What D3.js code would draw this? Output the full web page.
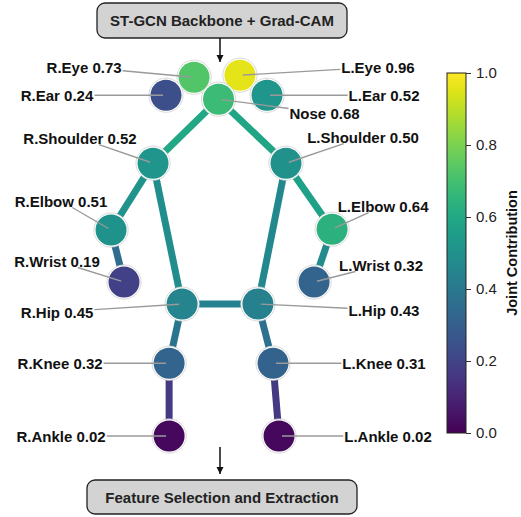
<!DOCTYPE html>
<html>
<head>
<meta charset="utf-8">
<script src="https://cdn.jsdelivr.net/npm/d3@7"></script>
<style>
  body { margin: 0; background: #fff; }
  svg { display: block; font-family: "Liberation Sans", Arial, sans-serif; }
</style>
</head>
<body>
<svg width="521" height="517"></svg>
<script>
// joints (COCO style), Grad-CAM contribution and pose keypoints (normalised)
let joints = ['Nose', 'R.Eye', 'L.Eye', 'R.Ear', 'L.Ear', 'R.Shoulder', 'L.Shoulder',
  'R.Elbow', 'L.Elbow', 'R.Wrist', 'L.Wrist', 'R.Hip', 'L.Hip', 'R.Knee', 'L.Knee',
  'R.Ankle', 'L.Ankle']
let values = [0.68, 0.73, 0.96, 0.24, 0.52, 0.52, 0.50, 0.51, 0.64, 0.19, 0.32,
  0.45, 0.43, 0.32, 0.31, 0.02, 0.02]
let jointX = [0.494, 0.392, 0.583, 0.275, 0.696, 0.221, 0.775, 0.046, 0.967,
  0.100, 0.892, 0.342, 0.658, 0.288, 0.721, 0.288, 0.746]
let jointY = [0.098, 0.043, 0.038, 0.088, 0.088, 0.258, 0.258, 0.425, 0.423,
  0.555, 0.555, 0.610, 0.610, 0.758, 0.758, 0.940, 0.940]
let bones = [
  ['Nose', 'R.Shoulder'], ['Nose', 'L.Shoulder'],
  ['R.Shoulder', 'R.Elbow'], ['R.Elbow', 'R.Wrist'],
  ['L.Shoulder', 'L.Elbow'], ['L.Elbow', 'L.Wrist'],
  ['R.Shoulder', 'R.Hip'], ['L.Shoulder', 'L.Hip'], ['R.Hip', 'L.Hip'],
  ['R.Hip', 'R.Knee'], ['R.Knee', 'R.Ankle'],
  ['L.Hip', 'L.Knee'], ['L.Knee', 'L.Ankle']
]
let colorTicks = [0, 0.2, 0.4, 0.6, 0.8, 1.0]
let topLabel = 'ST-GCN Backbone + Grad-CAM'
let bottomLabel = 'Feature Selection and Extraction'
let colorTitle = 'Joint Contribution'

// label centre offsets from each joint (layout only)
let labelOffset = {
  'Nose': [106, 14], 'R.Eye': [-110, -10], 'L.Eye': [138, -8],
  'R.Ear': [-109, 0], 'L.Ear': [117, 0],
  'R.Shoulder': [-73, -25], 'L.Shoulder': [77, -26],
  'R.Elbow': [-50, -29], 'L.Elbow': [51, -23],
  'R.Wrist': [-67, -21], 'L.Wrist': [67, -17],
  'R.Hip': [-125, 8], 'L.Hip': [126, 6],
  'R.Knee': [-109, 0], 'L.Knee': [111, 0],
  'R.Ankle': [-108, 0], 'L.Ankle': [109, 0]
}

let svg = d3.select('svg')
let r = 15.5
let fs = 15

let xScale = d3.scaleLinear().domain([0, 1]).range([100, 340])
let yScale = d3.scaleLinear().domain([0, 1]).range([60, 460])
let color = d3.scaleSequential(d3.interpolateViridis).domain([0, 1])

let data = joints.map((name, i) => ({
  name: name,
  value: values[i],
  x: xScale(jointX[i]),
  y: yScale(jointY[i])
}))
let byName = {}
data.forEach(d => byName[d.name] = d)

// defs: arrow head + gradient
let defs = svg.append('defs')
defs.append('marker')
  .attr('id', 'head')
  .attr('viewBox', '0 0 10 10')
  .attr('refX', 10).attr('refY', 5)
  .attr('markerWidth', 7).attr('markerHeight', 8)
  .attr('markerUnits', 'userSpaceOnUse')
  .attr('orient', 'auto')
  .append('path')
  .attr('d', 'M0,0 L10,5 L0,10 Z')
  .attr('fill', '#111')

let grad = defs.append('linearGradient')
  .attr('id', 'cbar')
  .attr('x1', 0).attr('y1', 1).attr('x2', 0).attr('y2', 0)
d3.range(0, 1.0001, 0.05).forEach(t => {
  grad.append('stop').attr('offset', t).attr('stop-color', color(t))
})

// flow boxes
function box(cx, y, w, h, label) {
  svg.append('rect')
    .attr('x', cx - w / 2).attr('y', y)
    .attr('width', w).attr('height', h)
    .attr('rx', 8)
    .attr('fill', '#d3d3d3')
    .attr('stroke', '#222')
    .attr('stroke-width', 1.3)
  svg.append('text')
    .attr('x', cx).attr('y', y + h / 2)
    .attr('text-anchor', 'middle')
    .attr('dominant-baseline', 'central')
    .attr('font-size', fs)
    .attr('font-weight', 'bold')
    .attr('fill', '#222')
    .text(label)
}
box(222, 3, 250, 35, topLabel)
box(222, 480, 270, 34, bottomLabel)

svg.append('line')
  .attr('x1', 220).attr('y1', 38).attr('x2', 220).attr('y2', 62)
  .attr('stroke', '#111').attr('stroke-width', 1.5)
  .attr('marker-end', 'url(#head)')
svg.append('line')
  .attr('x1', 220).attr('y1', 447).attr('x2', 220).attr('y2', 474)
  .attr('stroke', '#111').attr('stroke-width', 1.5)
  .attr('marker-end', 'url(#head)')

// bones
svg.append('g')
  .selectAll('line')
  .data(bones)
  .enter()
  .append('line')
  .attr('x1', d => byName[d[0]].x)
  .attr('y1', d => byName[d[0]].y)
  .attr('x2', d => byName[d[1]].x)
  .attr('y2', d => byName[d[1]].y)
  .attr('stroke', d => color((byName[d[0]].value + byName[d[1]].value) / 2))
  .attr('stroke-width', 7)

// joints, nose drawn last so it sits on top
let order = data.slice(1).concat([data[0]])
let jointG = svg.append('g')
  .selectAll('g')
  .data(order)
  .enter()
  .append('g')
jointG.append('circle')
  .attr('cx', d => d.x).attr('cy', d => d.y)
  .attr('r', r + 1.6)
  .attr('fill', '#fff')
  .attr('stroke', '#cfcfcf')
  .attr('stroke-width', 0.8)
jointG.append('circle')
  .attr('cx', d => d.x).attr('cy', d => d.y)
  .attr('r', r)
  .attr('fill', d => color(d.value))

// labels + leader lines
let labelG = svg.append('g')
data.forEach(d => {
  let off = labelOffset[d.name]
  let tx = d.x + off[0]
  let ty = d.y + off[1]
  let line = labelG.append('line')
  let t = labelG.append('text')
    .attr('x', tx).attr('y', ty)
    .attr('text-anchor', 'middle')
    .attr('dominant-baseline', 'central')
    .attr('font-size', fs)
    .attr('font-weight', 'bold')
    .attr('fill', '#111')
    .text(d.name + ' ' + d3.format('.2f')(d.value))
  let bb = t.node().getBBox()
  let hw = bb.width / 2 + 1
  let hh = bb.height / 2 - 2
  let dx = d.x - tx
  let dy = d.y - ty
  let s = Math.min(dx ? hw / Math.abs(dx) : Infinity, dy ? hh / Math.abs(dy) : Infinity)
  let len = Math.hypot(dx, dy)
  let e = 1 - 3 / len
  line
    .attr('x1', tx + dx * s).attr('y1', ty + dy * s)
    .attr('x2', tx + dx * e).attr('y2', ty + dy * e)
    .attr('stroke', '#9a9a9a')
    .attr('stroke-width', 1.4)
})

// colorbar
let cbX = 447
let cbW = 19
let cbScale = d3.scaleLinear().domain([0, 1]).range([433, 73])
svg.append('rect')
  .attr('x', cbX).attr('y', cbScale(1))
  .attr('width', cbW).attr('height', cbScale(0) - cbScale(1))
  .attr('fill', 'url(#cbar)')
  .attr('stroke', '#222')
  .attr('stroke-width', 1)

let cbAxis = d3.axisRight(cbScale)
  .tickValues(colorTicks)
  .tickFormat(d3.format('.1f'))
  .tickSize(5)
  .tickPadding(5)
let ax = svg.append('g')
  .attr('transform', 'translate(' + [cbX + cbW, 0] + ')')
  .call(cbAxis)
ax.select('.domain').remove()
ax.selectAll('.tick line').attr('stroke', '#333')
ax.selectAll('.tick text')
  .attr('font-size', 15)
  .attr('font-family', '"Liberation Sans", Arial, sans-serif')
  .attr('fill', '#222')

svg.append('text')
  .attr('transform', 'translate(' + [512, (cbScale(0) + cbScale(1)) / 2] + ') rotate(-90)')
  .attr('text-anchor', 'middle')
  .attr('dominant-baseline', 'central')
  .attr('font-size', 14.5)
  .attr('font-weight', 'bold')
  .attr('fill', '#111')
  .text(colorTitle)
</script>
</body>
</html>
